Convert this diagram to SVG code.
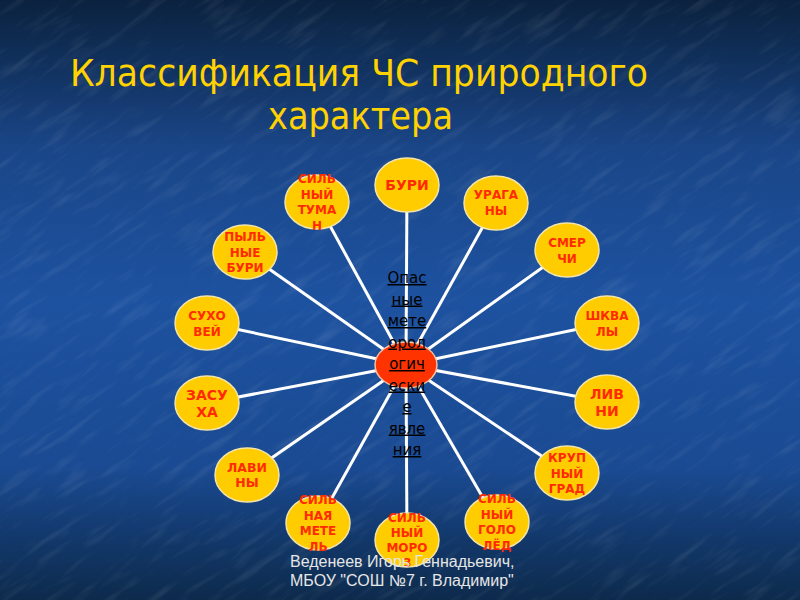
<svg xmlns="http://www.w3.org/2000/svg" width="800" height="600" viewBox="0 0 800 600">
<defs>
<linearGradient id="bg" x1="0" y1="0" x2="0" y2="1">
<stop offset="0" stop-color="#0b223f"/>
<stop offset="0.08" stop-color="#0f2d55"/>
<stop offset="0.25" stop-color="#1a4688"/>
<stop offset="0.5" stop-color="#1d52a0"/>
<stop offset="0.78" stop-color="#1a4a92"/>
<stop offset="0.9" stop-color="#12386a"/>
<stop offset="1" stop-color="#0d2a4c"/>
</linearGradient>
<filter id="tex" x="0" y="0" width="100%" height="100%">
<feTurbulence type="fractalNoise" baseFrequency="0.02 0.12" numOctaves="3" seed="4" result="n"/>
<feColorMatrix in="n" type="matrix" values="0 0 0 0 1  0 0 0 0 1  0 0 0 0 1  0 0 0 1.2 -0.62"/>
</filter>
<style>
.lnk{stroke:#ffffff;stroke-width:3;fill:none}
.nd{fill:#ffcc00;stroke:#f3e4a8;stroke-width:1.5}
.nt{font-family:"DejaVu Sans",Verdana,sans-serif;font-weight:bold;font-size:12px;fill:#ff2a00;text-anchor:middle}
.ct{font-family:"DejaVu Sans",Verdana,sans-serif;font-size:15px;fill:#000000;text-anchor:middle;text-decoration:underline}
.ttl{font-family:"DejaVu Sans Condensed","DejaVu Sans",sans-serif;font-size:37px;fill:#ffd200}
.ft{font-family:"Liberation Sans",Arial,sans-serif;font-size:16px;fill:#e6e6e6}
</style>
</defs>
<rect width="800" height="600" fill="url(#bg)"/>
<g transform="rotate(-35 400 300)" opacity="0.18">
<rect x="-300" y="-300" width="1400" height="1200" filter="url(#tex)"/>
</g>
<g id="title">
<text class="ttl" x="70" y="86" textLength="578" lengthAdjust="spacingAndGlyphs">Классификация ЧС природного</text>
<text class="ttl" x="268" y="129" textLength="185" lengthAdjust="spacingAndGlyphs">характера</text>
</g>
<g id="connectors">
<line class="lnk" x1="406" y1="365" x2="407" y2="185"/>
<line class="lnk" x1="406" y1="365" x2="496" y2="203"/>
<line class="lnk" x1="406" y1="365" x2="567" y2="250"/>
<line class="lnk" x1="406" y1="365" x2="607" y2="323"/>
<line class="lnk" x1="406" y1="365" x2="607" y2="402"/>
<line class="lnk" x1="406" y1="365" x2="567" y2="473"/>
<line class="lnk" x1="406" y1="365" x2="497" y2="522"/>
<line class="lnk" x1="406" y1="365" x2="407" y2="540"/>
<line class="lnk" x1="406" y1="365" x2="318" y2="523"/>
<line class="lnk" x1="406" y1="365" x2="247" y2="475"/>
<line class="lnk" x1="406" y1="365" x2="207" y2="403"/>
<line class="lnk" x1="406" y1="365" x2="207" y2="323"/>
<line class="lnk" x1="406" y1="365" x2="245" y2="252"/>
<line class="lnk" x1="406" y1="365" x2="317" y2="202"/>
</g>
<g id="n-buri">
<ellipse class="nd" cx="407" cy="185" rx="32" ry="27"/>
<text class="nt" x="407" y="190" style="font-size:14px">БУРИ</text>
</g>
<g id="n-uragany">
<ellipse class="nd" cx="496" cy="203" rx="32" ry="27"/>
<text class="nt" x="496" y="199">УРАГА<tspan x="496" dy="16">НЫ</tspan></text>
</g>
<g id="n-smerchi">
<ellipse class="nd" cx="567" cy="250" rx="32" ry="27"/>
<text class="nt" x="567" y="247">СМЕР<tspan x="567" dy="15.5">ЧИ</tspan></text>
</g>
<g id="n-shkvaly">
<ellipse class="nd" cx="607" cy="323" rx="32" ry="27"/>
<text class="nt" x="607" y="320">ШКВА<tspan x="607" dy="15.5">ЛЫ</tspan></text>
</g>
<g id="n-livni">
<ellipse class="nd" cx="607" cy="402" rx="32" ry="27"/>
<text class="nt" x="607" y="399" style="font-size:14px">ЛИВ<tspan x="607" dy="17">НИ</tspan></text>
</g>
<g id="n-grad">
<ellipse class="nd" cx="567" cy="473" rx="32" ry="27"/>
<text class="nt" x="567" y="462">КРУП<tspan x="567" dy="15.5">НЫЙ</tspan><tspan x="567" dy="15.5">ГРАД</tspan></text>
</g>
<g id="n-gololed">
<ellipse class="nd" cx="497" cy="522" rx="32" ry="27"/>
<text class="nt" x="497" y="503">СИЛЬ<tspan x="497" dy="15.5">НЫЙ</tspan><tspan x="497" dy="15.5">ГОЛО</tspan><tspan x="497" dy="15.5">ЛЁД</tspan></text>
</g>
<g id="n-moroz">
<ellipse class="nd" cx="407" cy="540" rx="32" ry="27"/>
<text class="nt" x="407" y="522">СИЛЬ<tspan x="407" dy="15">НЫЙ</tspan><tspan x="407" dy="15">МОРО</tspan><tspan x="407" dy="15">З</tspan></text>
</g>
<g id="n-metel">
<ellipse class="nd" cx="318" cy="523" rx="32" ry="27"/>
<text class="nt" x="318" y="504">СИЛЬ<tspan x="318" dy="15.5">НАЯ</tspan><tspan x="318" dy="15.5">МЕТЕ</tspan><tspan x="318" dy="15.5">ЛЬ</tspan></text>
</g>
<g id="n-laviny">
<ellipse class="nd" cx="247" cy="475" rx="32" ry="27"/>
<text class="nt" x="247" y="472" style="font-size:12.5px">ЛАВИ<tspan x="247" dy="15">НЫ</tspan></text>
</g>
<g id="n-zasuha">
<ellipse class="nd" cx="207" cy="403" rx="32" ry="27"/>
<text class="nt" x="207" y="400" style="font-size:14px">ЗАСУ<tspan x="207" dy="17">ХА</tspan></text>
</g>
<g id="n-suhovey">
<ellipse class="nd" cx="207" cy="323" rx="32" ry="27"/>
<text class="nt" x="207" y="320">СУХО<tspan x="207" dy="15.5">ВЕЙ</tspan></text>
</g>
<g id="n-pylnye">
<ellipse class="nd" cx="245" cy="252" rx="32" ry="27"/>
<text class="nt" x="245" y="241">ПЫЛЬ<tspan x="245" dy="15.5">НЫЕ</tspan><tspan x="245" dy="15.5">БУРИ</tspan></text>
</g>
<g id="n-tuman">
<ellipse class="nd" cx="317" cy="202" rx="32" ry="27"/>
<text class="nt" x="317" y="183">СИЛЬ<tspan x="317" dy="15.5">НЫЙ</tspan><tspan x="317" dy="15.5">ТУМА</tspan><tspan x="317" dy="15.5">Н</tspan></text>
</g>
<g id="n-center">
<ellipse cx="406" cy="365" rx="31" ry="23" fill="#ff3300" stroke="#f6c2a6" stroke-width="1.5"/>
<text class="ct" x="407" y="283">Опас</text>
<text class="ct" x="407" y="304.5">ные</text>
<text class="ct" x="407" y="326">мете</text>
<text class="ct" x="407" y="347.5">орол</text>
<text class="ct" x="407" y="369">огич</text>
<text class="ct" x="407" y="390.5">ески</text>
<text class="ct" x="407" y="412">е</text>
<text class="ct" x="407" y="433.5">явле</text>
<text class="ct" x="407" y="455">ния</text>
</g>
<g id="footer">
<text class="ft" x="290" y="567">Веденеев Игорь Геннадьевич,</text>
<text class="ft" x="290" y="586">МБОУ "СОШ №7 г. Владимир"</text>
</g>
</svg>
